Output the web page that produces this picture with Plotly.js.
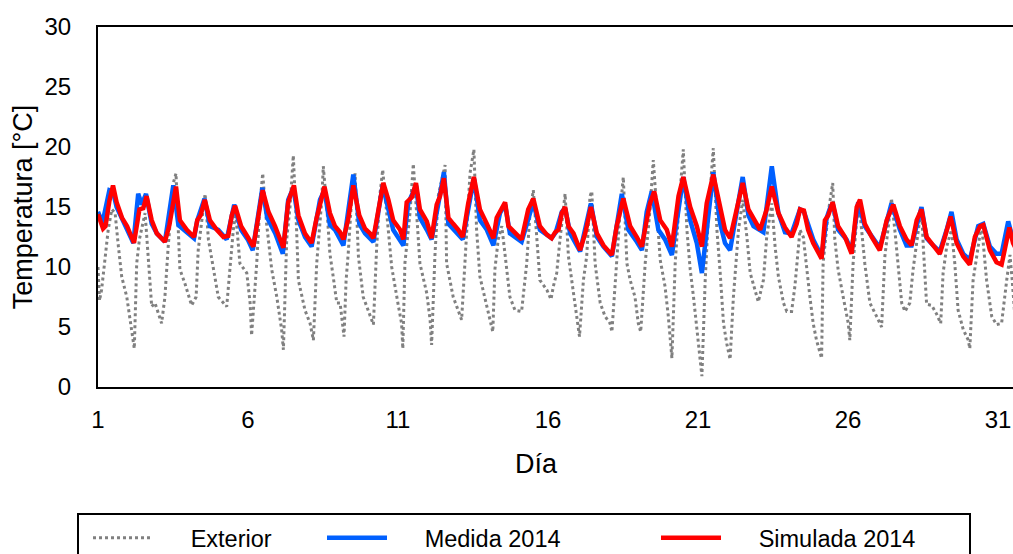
<!DOCTYPE html>
<html>
<head>
<meta charset="utf-8">
<script src="https://cdn.plot.ly/plotly-3.0.1.min.js"></script>
<style>
html,body{margin:0;padding:0;overflow:hidden;background:#fff;}
#chart{width:1030px;height:640px;}
</style>
</head>
<body>
<div id="chart"></div>
<script>
// Tick labels
const xTicks = [1, 6, 11, 16, 21, 26, 31];
const yTicks = [0, 5, 10, 15, 20, 25, 30];

// Exterior temperature (day, °C)
const extDay = [1.00,1.05,1.12,1.34,1.46,1.57,1.68,1.79,1.96,2.12,2.21,2.29,2.38,2.57,2.73,2.79,2.90,3.12,3.23,3.34,3.51,3.60,3.73,3.90,4.12,4.27,4.34,4.57,4.68,4.84,5.01,5.29,5.40,5.51,5.59,5.73,5.96,6.07,6.12,6.29,6.40,6.49,6.62,6.79,6.96,7.12,7.18,7.29,7.40,7.51,7.62,7.68,7.90,8.07,8.18,8.29,8.46,8.51,8.64,8.73,8.84,8.96,9.07,9.20,9.27,9.34,9.46,9.57,9.68,9.84,9.96,10.18,10.29,10.40,10.49,10.68,10.79,11.01,11.12,11.16,11.23,11.40,11.51,11.62,11.73,11.96,12.07,12.12,12.23,12.34,12.57,12.62,12.84,12.96,13.12,13.23,13.40,13.53,13.62,13.73,13.90,14.07,14.16,14.23,14.34,14.46,14.57,14.73,14.90,15.12,15.29,15.40,15.51,15.73,15.96,16.10,16.18,16.29,16.40,16.51,16.57,16.68,16.79,16.90,17.01,17.05,17.18,17.29,17.40,17.46,17.57,17.74,17.90,18.07,18.13,18.24,18.40,18.51,18.63,18.74,18.90,19.01,19.09,19.24,19.40,19.51,19.63,19.74,19.90,20.01,20.13,20.24,20.35,20.51,20.63,20.74,20.85,20.96,21.13,21.24,21.35,21.51,21.63,21.74,21.85,21.96,22.07,22.18,22.35,22.49,22.63,22.74,22.90,23.01,23.18,23.29,23.46,23.57,23.68,23.85,23.96,24.12,24.23,24.34,24.40,24.51,24.62,24.73,24.84,24.95,25.12,25.17,25.34,25.49,25.56,25.67,25.84,26.01,26.06,26.17,26.29,26.40,26.56,26.73,26.95,27.12,27.23,27.34,27.45,27.56,27.67,27.79,27.90,28.06,28.17,28.34,28.45,28.51,28.62,28.79,28.95,29.09,29.17,29.29,29.45,29.56,29.67,29.84,30.01,30.06,30.17,30.34,30.45,30.62,30.79,30.95,31.12,31.29,31.40,31.47,31.55];
const extT = [10.0,7.2,8.1,13.1,14.8,14.5,11.7,9.2,7.5,4.8,3.2,10.3,12.3,14.5,8.9,6.7,7.0,5.3,7.5,11.7,17.0,17.8,9.8,8.6,6.8,7.5,11.4,16.1,12.3,9.8,7.5,6.7,10.3,13.1,14.5,10.3,9.5,7.0,4.3,10.3,15.3,17.8,13.6,9.8,7.5,4.8,3.1,12.3,15.0,19.3,13.1,8.9,6.4,5.3,3.9,10.3,15.6,18.4,14.5,11.1,9.2,7.0,7.0,4.2,8.9,11.1,15.9,17.8,10.9,7.5,6.7,5.2,11.7,16.1,18.1,13.1,10.0,6.8,5.3,3.2,10.3,14.5,18.6,14.5,10.3,7.8,5.6,3.5,10.9,15.9,18.5,10.3,7.5,6.7,5.6,10.3,17.8,19.8,13.1,9.2,7.3,5.6,4.6,9.8,12.3,13.4,10.9,7.5,6.4,6.3,10.3,14.5,16.4,8.9,8.1,7.3,8.4,9.5,12.3,14.5,16.1,10.9,8.9,7.3,5.3,4.2,8.9,10.9,15.9,16.3,10.3,7.0,5.9,5.3,4.6,8.9,14.5,17.5,10.3,8.9,7.5,5.3,4.6,10.3,14.8,18.9,14.5,10.6,8.4,5.9,2.4,10.3,14.5,19.8,13.1,9.8,7.5,4.8,0.9,8.9,14.5,19.9,13.1,9.5,5.3,3.6,2.3,7.5,13.1,15.6,12.5,9.5,8.1,7.1,8.9,12.5,15.3,11.7,9.2,7.0,6.3,6.3,8.4,11.7,13.1,12.5,9.8,7.5,5.3,3.9,2.4,10.3,14.5,17.0,12.3,9.8,7.5,5.3,3.9,10.3,13.9,14.5,10.3,7.0,5.9,5.0,10.9,13.1,15.7,13.1,10.3,7.0,6.3,7.0,9.8,13.1,15.0,11.7,6.9,6.8,6.1,5.3,9.5,11.7,13.1,10.3,6.4,4.8,3.9,3.2,8.9,11.7,13.6,8.9,5.9,5.2,5.3,8.9,11.0,9.0,6.3];

// Medida 2014 (day, °C)
const medDay = [1.00,1.15,1.38,1.50,1.62,1.80,1.97,2.18,2.34,2.46,2.60,2.79,2.96,3.23,3.51,3.68,3.96,4.20,4.31,4.55,4.73,5.01,5.29,5.45,5.54,5.77,5.99,6.16,6.48,6.64,6.91,7.16,7.34,7.51,7.68,7.90,8.12,8.40,8.55,8.73,8.90,9.18,9.51,9.71,9.90,10.18,10.49,10.68,10.84,11.18,11.34,11.60,11.73,11.96,12.12,12.34,12.53,12.68,12.96,13.16,13.53,13.73,13.96,14.18,14.40,14.57,14.73,15.12,15.51,15.73,16.12,16.26,16.46,16.57,16.74,17.07,17.43,17.63,17.85,18.13,18.46,18.68,18.96,19.13,19.29,19.46,19.68,19.90,20.13,20.51,20.74,20.96,21.13,21.51,21.74,21.90,22.07,22.49,22.68,22.85,23.18,23.46,23.68,23.90,24.12,24.40,24.53,24.84,25.12,25.29,25.40,25.49,25.67,25.95,26.12,26.34,26.56,26.84,27.06,27.45,27.73,27.95,28.12,28.45,28.62,28.84,29.06,29.29,29.45,29.62,29.84,30.06,30.34,30.51,30.73,30.95,31.12,31.34,31.50,31.60];
const medT = [14.6,13.7,16.4,16.3,15.0,14.0,13.2,12.0,16.1,15.2,16.1,13.6,12.8,12.1,16.8,13.5,12.9,12.4,13.9,15.7,13.4,13.1,12.3,14.2,15.2,13.1,12.3,11.4,16.6,14.1,12.8,11.1,15.6,16.6,13.9,12.5,11.7,15.6,16.4,13.5,13.1,11.8,17.7,13.6,12.8,12.1,16.8,14.8,13.1,11.8,15.3,16.8,14.1,13.1,12.3,15.2,17.9,13.6,12.9,12.3,17.4,13.9,13.1,11.8,14.5,15.2,12.8,12.1,15.4,13.1,12.4,12.9,14.6,14.9,12.8,11.3,15.3,12.5,11.7,10.9,16.1,13.1,12.1,11.4,14.6,16.3,13.1,12.3,11.0,17.5,13.9,12.0,9.5,17.9,13.6,12.0,11.4,17.5,14.3,13.4,12.9,18.4,14.5,12.9,12.8,14.8,14.6,12.3,10.9,14.1,14.9,15.3,13.1,12.3,11.3,15.4,13.4,12.3,11.6,15.3,13.1,11.8,11.8,15.0,12.4,11.8,11.3,13.1,14.6,12.3,11.1,10.6,13.4,13.6,11.7,11.1,11.1,13.8,12.3,12.0];

// Simulada 2014 (day, °C)
const simDay = [1.00,1.17,1.25,1.38,1.50,1.62,1.80,1.97,2.20,2.38,2.51,2.62,2.79,2.96,3.23,3.38,3.60,3.73,3.96,4.20,4.31,4.42,4.56,4.73,4.96,5.18,5.34,5.46,5.57,5.77,5.99,6.18,6.49,6.68,6.90,7.18,7.34,7.53,7.68,7.90,8.12,8.28,8.55,8.73,8.90,9.07,9.18,9.34,9.51,9.71,9.90,10.07,10.18,10.34,10.51,10.68,10.84,11.07,11.18,11.29,11.46,11.60,11.73,11.96,12.12,12.29,12.40,12.53,12.68,12.84,13.01,13.16,13.34,13.53,13.73,13.96,14.18,14.29,14.46,14.57,14.68,14.90,15.12,15.34,15.51,15.73,15.96,16.12,16.24,16.35,16.46,16.57,16.68,16.85,17.07,17.24,17.43,17.63,17.85,18.13,18.29,18.51,18.74,18.96,19.13,19.29,19.40,19.54,19.74,19.96,20.13,20.35,20.51,20.74,20.96,21.13,21.29,21.51,21.74,21.90,22.07,22.29,22.49,22.68,22.90,23.07,23.29,23.46,23.68,23.90,24.12,24.29,24.40,24.53,24.67,24.84,25.12,25.23,25.34,25.49,25.67,25.90,26.12,26.29,26.40,26.56,26.79,27.06,27.29,27.51,27.73,27.95,28.12,28.29,28.45,28.62,28.84,29.06,29.23,29.34,29.42,29.62,29.84,30.06,30.23,30.40,30.51,30.73,30.95,31.12,31.29,31.38,31.50,31.60];
const simT = [14.4,13.2,13.4,15.5,16.8,15.4,14.1,13.4,12.0,14.8,14.9,15.9,13.9,12.8,12.1,13.5,16.7,13.9,13.1,12.5,13.9,14.3,15.6,13.9,13.1,12.5,12.6,14.3,15.1,13.4,12.5,11.7,16.4,14.6,13.4,11.6,15.4,16.8,14.3,12.8,12.0,14.0,16.7,14.5,13.4,12.9,12.3,14.0,16.8,14.3,13.2,12.8,12.4,14.8,17.0,15.6,13.9,13.1,12.3,15.4,15.8,17.0,14.8,13.8,12.4,15.2,15.9,17.4,14.1,13.6,13.1,12.5,15.3,17.5,14.8,13.6,12.4,14.1,14.9,15.4,13.4,12.8,12.3,14.8,15.7,13.4,12.7,12.4,12.9,13.1,14.5,15.0,13.4,12.8,11.4,12.8,15.0,12.8,11.8,11.0,13.4,15.7,13.4,12.5,11.7,13.9,15.3,16.3,13.9,13.1,11.7,15.9,17.5,15.0,13.4,11.7,15.3,17.7,14.8,13.1,12.4,15.0,17.0,14.8,13.8,13.1,14.8,16.7,14.5,13.3,12.5,13.6,14.8,14.7,13.1,12.0,10.7,13.9,14.3,15.4,13.4,12.5,11.1,15.0,15.6,13.6,12.5,11.4,13.9,15.2,13.4,12.3,11.8,13.9,14.8,12.5,11.8,11.1,12.5,13.4,14.2,12.0,10.9,10.2,12.5,13.4,13.5,11.4,10.4,10.2,12.3,13.3,12.0,11.5];

const seriesNames = ['Exterior', 'Medida 2014', 'Simulada 2014'];

const FONT = 'Liberation Sans, Arial, sans-serif';
const pad = '\u00a0\u00a0\u00a0\u00a0\u00a0';

const traces = [
  {x: extDay, y: extT, name: pad + seriesNames[0], type: 'scatter', mode: 'lines',
   line: {color: '#808080', width: 3, dash: '3px,3px'}, legend: 'legend'},
  {x: medDay, y: medT, name: pad + seriesNames[1], type: 'scatter', mode: 'lines',
   line: {color: '#0060ff', width: 4.5}, legend: 'legend2'},
  {x: simDay, y: simT, name: pad + seriesNames[2], type: 'scatter', mode: 'lines',
   line: {color: '#ff0000', width: 4.5}, legend: 'legend3'}
];

// figure is taller/wider than the 1013x554 window; the window crops it
const W = 1030, H = 640;
const mL = 98, mR = 10, mT = 27, mB = H - 387;
const plotW = W - mL - mR, plotH = H - mT - mB;
const px = v => (v - mL) / plotW;
const py = v => (387 - v) / plotH;

const legendCommon = {orientation: 'h', xanchor: 'left', yanchor: 'middle',
  bgcolor: 'rgba(0,0,0,0)', borderwidth: 0, itemwidth: 60,
  font: {family: FONT, size: 23.5, color: '#000'}};

const layout = {
  width: W, height: H,
  margin: {l: mL, r: mR, t: mT, b: mB, pad: 0},
  paper_bgcolor: '#fff', plot_bgcolor: '#fff',
  font: {family: FONT, size: 24, color: '#000'},
  showlegend: true,
  xaxis: {range: [1, 1 + plotW / 30], tickvals: xTicks, ticktext: xTicks.map(String),
    showgrid: false, zeroline: false, showline: true, linecolor: '#000', linewidth: 2,
    mirror: true, ticks: '', ticklabelstandoff: 10, automargin: false,
    tickfont: {family: FONT, size: 24, color: '#000'}},
  yaxis: {range: [0, 30], tickvals: yTicks, ticktext: yTicks.map(String),
    showgrid: false, zeroline: false, showline: true, linecolor: '#000', linewidth: 2,
    mirror: true, ticks: '', ticklabelstandoff: 20, automargin: false,
    tickfont: {family: FONT, size: 24, color: '#000'},
    title: {text: 'Temperatura [°C]', font: {family: FONT, size: 27, color: '#000'}, standoff: 4}},
  legend: Object.assign({}, legendCommon, {x: px(88), y: py(538)}),
  legend2: Object.assign({}, legendCommon, {x: px(322), y: py(538)}),
  legend3: Object.assign({}, legendCommon, {x: px(656), y: py(538)}),
  annotations: [{text: 'Día', xref: 'paper', yref: 'paper', x: px(536), y: py(464),
    xanchor: 'center', yanchor: 'middle', showarrow: false,
    font: {family: FONT, size: 27, color: '#000'}}],
  shapes: [{type: 'rect', xref: 'paper', yref: 'paper', x0: px(78), x1: px(970),
    y0: py(514), y1: py(610), line: {color: '#000', width: 2}, fillcolor: 'rgba(0,0,0,0)'}]
};

Plotly.newPlot('chart', traces, layout, {staticPlot: true, displayModeBar: false});
</script>
</body>
</html>
